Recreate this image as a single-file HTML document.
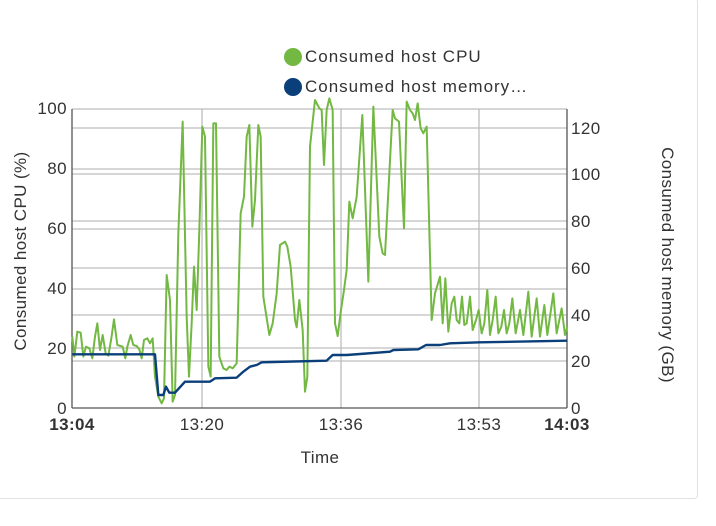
<!DOCTYPE html>
<html><head><style>
body{margin:0;background:#fff;width:716px;height:526px;overflow:hidden;font-family:"Liberation Sans",sans-serif;}
.card{position:absolute;left:-2px;top:-2px;width:698px;height:499px;border:1px solid #e2e2e2;border-radius:4px;}
</style></head><body>
<div class="card"></div>
<svg width="716" height="526" style="position:absolute;left:0;top:0" font-family="Liberation Sans, sans-serif">
<g stroke="#bdbdbd" stroke-width="1.3">
<line x1="72" x2="567" y1="109" y2="109"/><line x1="72" x2="567" y1="169" y2="169"/><line x1="72" x2="567" y1="229" y2="229"/><line x1="72" x2="567" y1="289" y2="289"/><line x1="72" x2="567" y1="348" y2="348"/>
<line x1="72" x2="567" y1="128" y2="128"/><line x1="72" x2="567" y1="174" y2="174"/><line x1="72" x2="567" y1="221" y2="221"/><line x1="72" x2="567" y1="268" y2="268"/><line x1="72" x2="567" y1="315" y2="315"/><line x1="72" x2="567" y1="361" y2="361"/>
<line x1="202" x2="202" y1="109" y2="408"/><line x1="341" x2="341" y1="109" y2="408"/><line x1="479" x2="479" y1="109" y2="408"/>
</g>
<g stroke="#555" stroke-width="1.3"><line x1="72" x2="72" y1="109" y2="408"/><line x1="567" x2="567" y1="109" y2="408"/><line x1="72" x2="567" y1="408" y2="408"/></g>
<g fill="none" stroke-linejoin="round">
<g transform="translate(40,90) scale(0.33333)">
<polyline vector-effect="non-scaling-stroke" stroke="#72b843" stroke-width="2" points="97,740 103,800 112,725 122,728 130,800 138,770 148,775 157,805 165,740 172,700 180,780 188,735 197,790 205,797 214,745 222,688 232,765 248,770 256,805 262,770 272,735 280,765 290,768 298,778 305,805 312,750 322,745 330,760 338,745 345,860 355,920 365,940 372,925 380,555 390,630 398,935 405,915 415,430 428,95 440,680 447,860 455,700 462,530 470,660 478,420 487,110 495,140 505,830 512,860 520,100 528,100 538,800 550,835 560,840 568,830 578,835 590,820 602,370 612,320 620,140 628,105 637,410 645,330 655,105 662,140 670,620 688,735 698,700 710,610 720,465 735,455 742,470 752,530 765,690 770,712 778,630 788,720 795,905 802,860 810,170 825,30 838,55 845,60 852,225 860,60 868,25 878,60 885,700 893,738 903,660 912,600 920,540"/>
<polyline vector-effect="non-scaling-stroke" stroke="#0b3f7a" stroke-width="2.4" points="97,793 345,793 355,915 370,915 378,890 388,908 405,908 435,875 510,875 525,865 590,863 610,845 630,830 650,825 665,817 700,816 860,812 878,795 920,795 960,792"/>
</g>
<g transform="translate(340,90) scale(0.33333)">
<polyline vector-effect="non-scaling-stroke" stroke="#72b843" stroke-width="2" points="20,540 28,335 38,385 50,320 67,75 85,575 100,50 118,440 128,490 135,495 158,60 165,85 177,95 192,415 200,35 210,60 218,70 225,90 233,40 242,115 250,130 260,110 275,690 285,610 300,560 308,700 316,565 325,725 335,640 343,620 350,690 358,700 366,620 373,705 380,700 390,620 398,720 408,690 416,660 425,730 433,700 442,600 450,735 458,690 467,620 475,730 484,710 492,660 500,730 508,700 517,625 527,730 540,660 550,735 565,605 575,740 590,625 600,740 613,645 622,735 640,610 650,730 665,655 675,735 682,710"/>
<polyline vector-effect="non-scaling-stroke" stroke="#0b3f7a" stroke-width="2.4" points="60,792 150,785 160,780 235,778 258,765 300,765 330,760 420,757 682,752"/>
</g>
</g>
<g fill="#333" font-size="17" letter-spacing="0.4">
<text x="67" y="114" text-anchor="end">100</text><text x="67" y="174" text-anchor="end">80</text><text x="67" y="234" text-anchor="end">60</text><text x="67" y="294" text-anchor="end">40</text><text x="67" y="354" text-anchor="end">20</text><text x="67" y="414" text-anchor="end">0</text>
<text x="571" y="134">120</text><text x="571" y="180">100</text><text x="571" y="227">80</text><text x="571" y="274">60</text><text x="571" y="321">40</text><text x="571" y="367">20</text><text x="571" y="414">0</text>
<text x="72" y="430" text-anchor="middle" font-weight="bold">13:04</text><text x="202" y="430" text-anchor="middle">13:20</text><text x="341" y="430" text-anchor="middle">13:36</text><text x="479" y="430" text-anchor="middle">13:53</text><text x="567" y="430" text-anchor="middle" font-weight="bold">14:03</text>
<text x="320" y="463" text-anchor="middle">Time</text>
<text transform="translate(26,251) rotate(-90)" text-anchor="middle">Consumed host CPU (%)</text>
<text transform="translate(662,265) rotate(90)" text-anchor="middle">Consumed host memory (GB)</text>
<circle cx="293" cy="57" r="9" fill="#72b843"/><text x="305" y="62" letter-spacing="1">Consumed host CPU</text>
<circle cx="293" cy="87" r="9" fill="#0b3f7a"/><text x="305" y="92" letter-spacing="1">Consumed host memory…</text>
</g>
</svg>
</body></html>
